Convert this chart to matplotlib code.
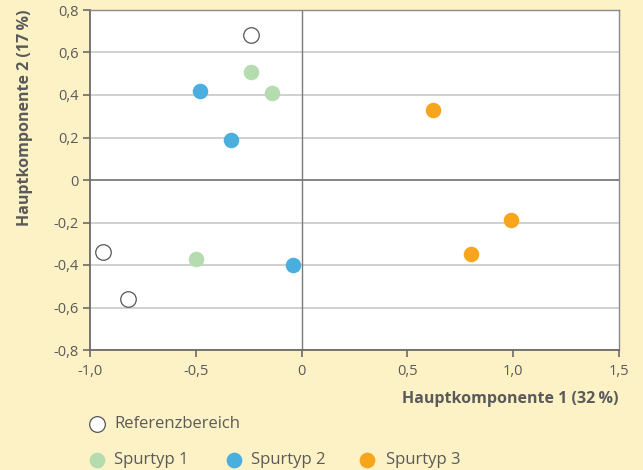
import matplotlib
matplotlib.use("Agg")
import matplotlib.pyplot as plt
from matplotlib.lines import Line2D

plt.rcParams['font.family'] = ['Open Sans', 'DejaVu Sans']

ref_x = [-0.24, -0.94, -0.82]
ref_y = [0.68, -0.34, -0.56]
s1_x = [-0.24, -0.14, -0.50]
s1_y = [0.51, 0.41, -0.37]
s2_x = [-0.48, -0.335, -0.04]
s2_y = [0.42, 0.19, -0.40]
s3_x = [0.62, 0.99, 0.80]
s3_y = [0.33, -0.19, -0.35]

xticks = [-1.0, -0.5, 0, 0.5, 1.0, 1.5]
xticklabels = ['-1,0', '-0,5', '0', '0,5', '1,0', '1,5']
yticks = [-0.8, -0.6, -0.4, -0.2, 0, 0.2, 0.4, 0.6, 0.8]
yticklabels = ['-0,8', '-0,6', '-0,4', '-0,2', '0', '0,2', '0,4', '0,6', '0,8']

BG = '#FDF1C6'
GREEN = '#B4DCAE'
BLUE = '#4AAEDF'
ORANGE = '#F8A51E'
TXT = '#5A5A5A'

fig = plt.figure(figsize=(6.43, 4.70), dpi=100, facecolor=BG)
ax = fig.add_axes([90/643, 120/470, 529/643, 340/470])
ax.set_facecolor('white')
ax.set_xlim(-1.0, 1.5)
ax.set_ylim(-0.8, 0.8)

for y in yticks:
    if y != 0:
        ax.axhline(y, color='#C8C8C8', lw=1.2, zorder=1)
ax.axhline(0, color='#7A7A7A', lw=1.3, zorder=1)
ax.axvline(0, color='#7A7A7A', lw=1.0, zorder=1)

ms = 125
ax.scatter(ref_x, ref_y, s=ms, facecolor='white', edgecolor='#555555', lw=0.9, zorder=3)
ax.scatter(s1_x, s1_y, s=ms, color=GREEN, lw=0, zorder=3)
ax.scatter(s2_x, s2_y, s=ms, color=BLUE, lw=0, zorder=3)
ax.scatter(s3_x, s3_y, s=ms, color=ORANGE, lw=0, zorder=3)

ax.set_xticks(xticks)
ax.set_xticklabels(xticklabels)
ax.set_yticks(yticks)
ax.set_yticklabels(yticklabels)
ax.tick_params(direction='out', length=5, width=1.2, color='#6A6A6A', labelcolor=TXT, labelsize=10.5)
ax.tick_params(axis='x', pad=5)
ax.tick_params(axis='y', pad=3)
for side in ['left', 'bottom']:
    ax.spines[side].set_color('#6A6A6A')
    ax.spines[side].set_linewidth(1.3)
for side in ['right', 'top']:
    ax.spines[side].set_color('#8A8A8A')
    ax.spines[side].set_linewidth(1.0)

fig.text(619/643, 1 - 399/470, 'Hauptkomponente 1 (32\u2009%)', ha='right', va='center',
         fontsize=11.5, fontweight='bold', color=TXT)
fig.text(25/643, 1 - 10/470, 'Hauptkomponente 2 (17\u2009%)', ha='center', va='top',
         rotation=90, fontsize=11.5, fontweight='bold', color=TXT)

# legend
def leg(px, py, tx, label, fc, ec):
    fig.add_artist(Line2D([px/643], [1 - py/470], transform=fig.transFigure, marker='o',
                          markersize=11.3, markerfacecolor=fc, markeredgecolor=ec,
                          markeredgewidth=0.9 if ec != 'none' else 0, linestyle='none'))
    fig.text(tx/643, 1 - py/470, label, ha='left', va='center', fontsize=12, color=TXT)

leg(97, 424, 114, 'Referenzbereich', 'white', '#555555')
leg(97, 460, 114, 'Spurtyp 1', GREEN, 'none')
leg(234, 460, 251, 'Spurtyp 2', BLUE, 'none')
leg(367, 460, 386, 'Spurtyp 3', ORANGE, 'none')

fig.savefig('out.png', dpi=100, facecolor=BG)
